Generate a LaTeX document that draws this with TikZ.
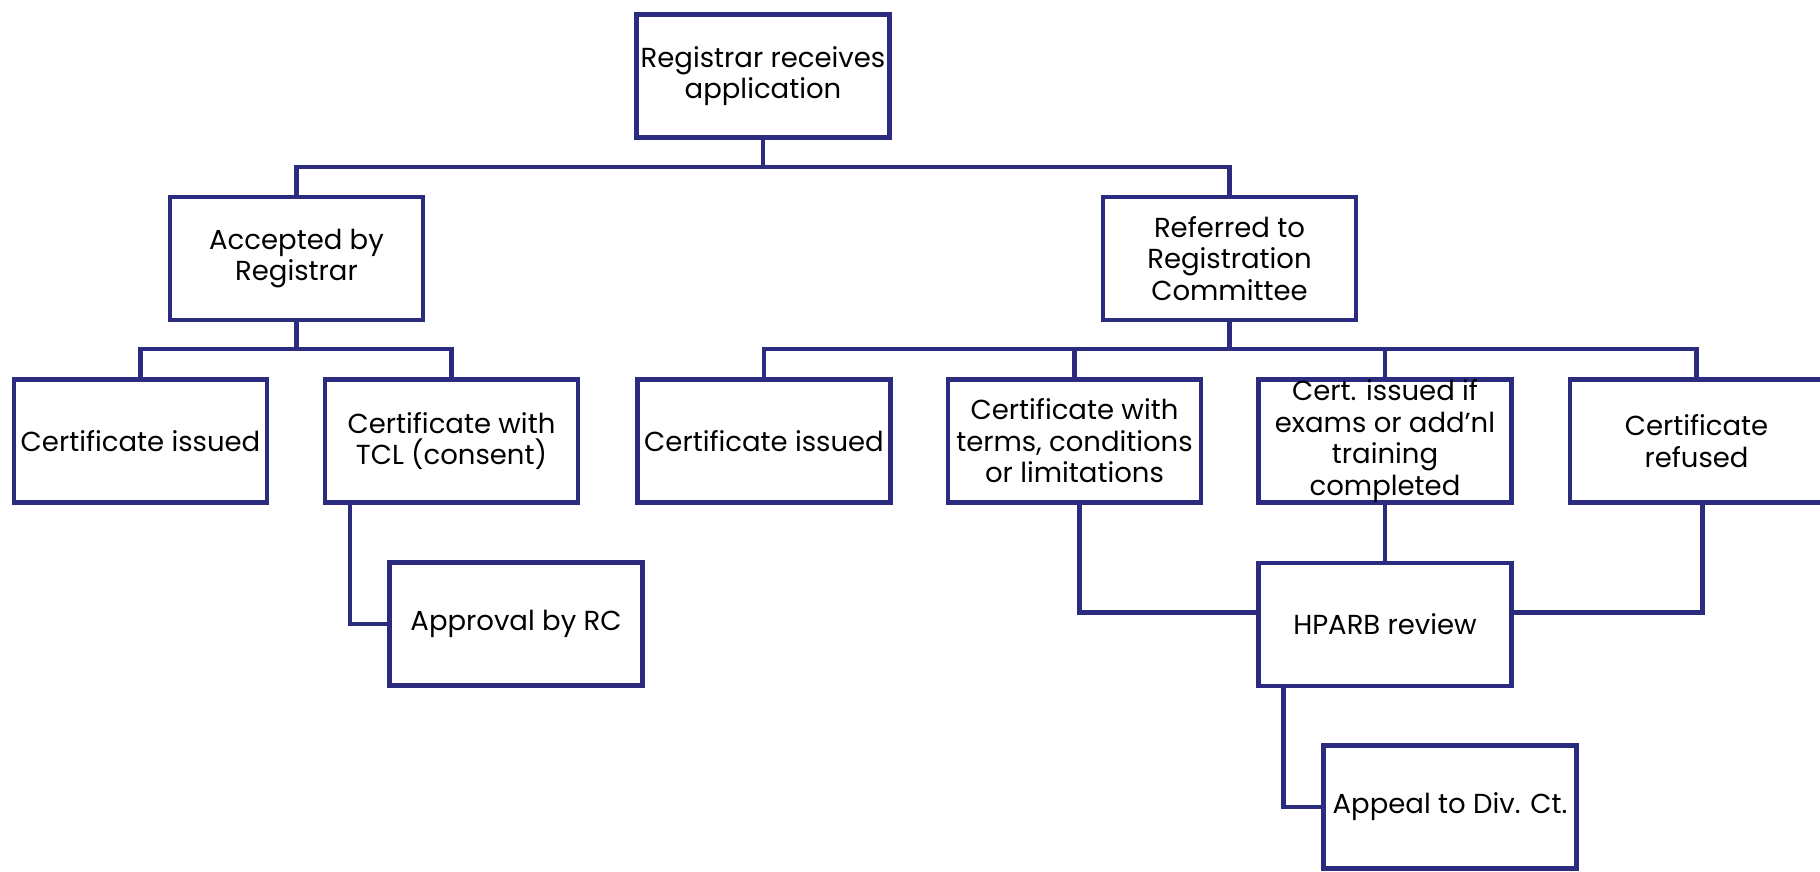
\documentclass[tikz,border=0pt]{standalone}
\usepackage{fontspec}
\setmainfont{Poppins}
\definecolor{navy}{RGB}{43,43,127}
\begin{document}
\begin{tikzpicture}[x=1pt,y=-1pt,
  box/.style={draw=navy,line width=4.5pt,fill=white,minimum width=253pt,minimum height=123pt,
    inner sep=0pt,align=center,font=\fontsize{27.5}{31.5}\selectfont,text=black},
  link/.style={draw=navy,line width=4.5pt}]
\useasboundingbox (0,0) rectangle (1820,872);
\node[box] (top) at (763,76) {Registrar receives\\application};
\node[box] (acc) at (296.5,258.5) {Accepted by\\Registrar};
\node[box] (ref) at (1229.5,258.5) {Referred to\\Registration\\Committee};
\node[box] (c1) at (140.5,441) {Certificate issued};
\node[box] (tcl) at (451.5,441) {Certificate with\\TCL (consent)};
\node[box] (c2) at (764,441) {Certificate issued};
\node[box] (terms) at (1074.5,441) {Certificate with\\terms, conditions\\or limitations};
\node[box] (certif) at (1385,441) {Cert. issued if\\exams or add'nl\\training\\completed};
\node[box] (refused) at (1696.5,441) {Certificate\\refused};
\node[box] (approval) at (516,624) {Approval by RC};
\node[box] (hparb) at (1385,624.5) {HPARB review};
\node[box] (appeal) at (1450,807) {Appeal to Div. Ct.};
\coordinate (b1) at (763,167);
\coordinate (b2) at (296.5,349);
\coordinate (b3) at (1229.5,349);
\draw[link] (top.south) -- (b1);
\draw[link] (acc.north) -- (acc.north |- b1) -- (ref.north |- b1) -- (ref.north);
\draw[link] (acc.south) -- (b2);
\draw[link] (c1.north) -- (c1.north |- b2) -- (tcl.north |- b2) -- (tcl.north);
\draw[link] (ref.south) -- (b3);
\draw[link] (c2.north) -- (c2.north |- b3) -- (refused.north |- b3) -- (refused.north);
\draw[link] (terms.north) -- (terms.north |- b3);
\draw[link] (certif.north) -- (certif.north |- b3);
\draw[link] ([xshift=27pt]tcl.south west) |- (approval.west);
\draw[link] ([xshift=5pt]terms.south) |- ([yshift=12pt]hparb.west);
\draw[link] ([xshift=6pt]refused.south) |- ([yshift=12pt]hparb.east);
\draw[link] (certif.south) -- (hparb.north);
\draw[link] ([xshift=27pt]hparb.south west) |- (appeal.west);
\end{tikzpicture}
\end{document}
